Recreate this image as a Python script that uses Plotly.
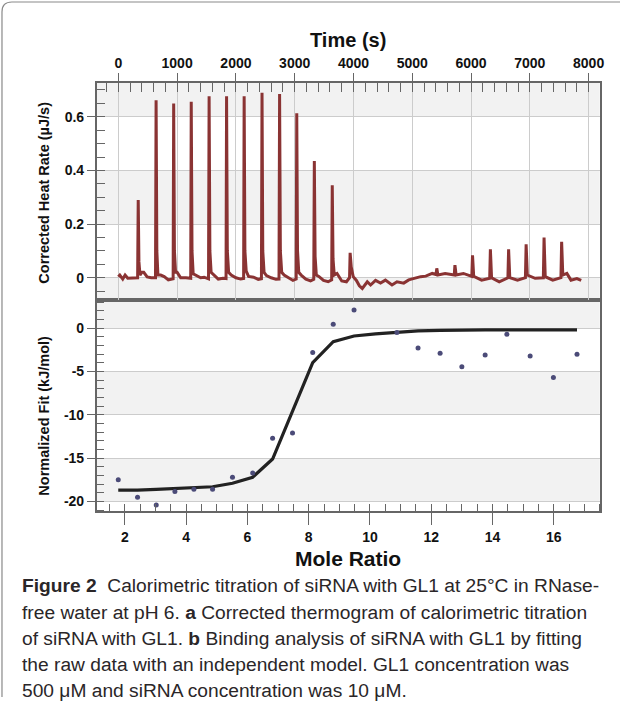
import plotly.graph_objects as go

# ---------------- data ----------------
# (a) corrected thermogram: time (s) and heat rate (uJ/s), vertices
heat_time = [
    0, 25, 75, 115, 160, 250, 328,
    338, 350, 368, 400, 432, 490, 560, 632,
    642, 655, 673, 720, 780, 850, 932,
    941, 954, 973, 1000, 1060, 1150, 1231,
    1240, 1253, 1273, 1320, 1400, 1460, 1534,
    1544, 1557, 1578, 1620, 1700, 1780, 1832,
    1841, 1854, 1876, 1920, 2000, 2080, 2131,
    2140, 2153, 2175, 2215, 2300, 2380, 2434,
    2444, 2457, 2479, 2520, 2600, 2680, 2733,
    2743, 2756, 2779, 2820, 2900, 2970, 3025,
    3035, 3048, 3069, 3110, 3190, 3270, 3324,
    3334, 3347, 3368, 3410, 3490, 3570, 3629,
    3639, 3652, 3673, 3720, 3800, 3880, 3933,
    3943, 3962, 3995, 4050, 4100, 4150, 4235, 4291, 4375, 4460,
    4543, 4655, 4740, 4855, 4940, 5030, 5143, 5230, 5340, 5405,
    5417, 5436, 5560, 5714,
    5726, 5746, 5870, 6013,
    6025, 6045, 6180, 6317,
    6329, 6349, 6480, 6627,
    6639, 6659, 6790, 6925,
    6937, 6957, 7090, 7230,
    7242, 7262, 7390, 7529,
    7541, 7561, 7630, 7700, 7800, 7874,
]
heat_rate = [
    0.004, 0.010, -0.005, 0.010, -0.002, 0.000, 0.000,
    0.290, 0.060, 0.010, 0.020, 0.020, 0.003, 0.000, 0.000,
    0.662, 0.100, 0.010, 0.010, 0.004, -0.008, -0.004,
    0.650, 0.100, 0.020, 0.020, 0.000, 0.000, -0.002,
    0.656, 0.100, 0.015, 0.010, 0.000, 0.002, -0.004,
    0.677, 0.100, 0.020, 0.010, -0.005, -0.002, -0.003,
    0.677, 0.100, 0.020, 0.010, 0.000, -0.005, -0.003,
    0.677, 0.100, 0.025, 0.005, 0.002, -0.006, -0.004,
    0.690, 0.100, 0.020, 0.008, 0.000, -0.006, -0.005,
    0.685, 0.100, 0.020, 0.010, 0.000, -0.010, -0.005,
    0.613, 0.100, 0.020, 0.010, -0.005, -0.012, -0.006,
    0.435, 0.080, 0.010, 0.005, -0.010, -0.015, -0.008,
    0.345, 0.070, 0.010, 0.016, -0.012, -0.015, 0.000,
    0.093, 0.040, 0.004, -0.010, -0.030, -0.040, -0.015, -0.027, -0.010, -0.020,
    -0.009, -0.027, -0.015, -0.020, -0.008, -0.002, 0.004, 0.006, 0.016, 0.012,
    0.035, 0.010, 0.016, 0.010,
    0.047, 0.010, 0.016, 0.005,
    0.084, 0.005, -0.009, -0.002,
    0.106, 0.000, -0.015, 0.000,
    0.106, 0.000, -0.009, 0.000,
    0.125, 0.010, -0.002, 0.000,
    0.150, 0.004, -0.009, 0.000,
    0.134, 0.010, 0.016, -0.009, -0.003, -0.010,
]
assert len(heat_time) == len(heat_rate)

# (b) integrated heats and fit
mole_ratio = [1.78, 2.41, 3.02, 3.63, 4.25, 4.86, 5.51, 6.17, 6.82, 7.47, 8.13, 8.80,
              9.48, 10.18, 10.88, 11.57, 12.29, 13.00, 13.76, 14.47, 15.23, 15.99, 16.76]
norm_heat = [-17.5, -19.5, -20.4, -18.85, -18.6, -18.6, -17.2, -16.7, -12.7, -12.1, -2.8, 0.45,
             2.1, None, -0.5, -2.27, -2.9, -4.46, -3.1, -0.7, -3.2, -5.7, -3.0]
fit_heat = [-18.7, -18.7, -18.6, -18.5, -18.45, -18.3, -17.9, -17.2, -15.1, -9.6, -3.97, -1.54,
            -0.9, -0.65, -0.5, -0.3, -0.25, -0.2, -0.2, -0.2, -0.2, -0.2, -0.2]

time_ticks = [0, 1000, 2000, 3000, 4000, 5000, 6000, 7000, 8000]
mole_ticks = [2, 4, 6, 8, 10, 12, 14, 16]
rate_ticks = [0, 0.2, 0.4, 0.6]
rate_labels = ["0", "0.2", "0.4", "0.6"]
fit_ticks = [0, -5, -10, -15, -20]
fit_labels = ["0", "-5", "-10", "-15", "-20"]

caption_lines = [
    "<b>Figure 2</b>  Calorimetric titration of siRNA with GL1 at 25°C in RNase-",
    "free water at pH 6. <b>a</b> Corrected thermogram of calorimetric titration",
    "of siRNA with GL1. <b>b</b> Binding analysis of siRNA with GL1 by fitting",
    "the raw data with an independent model. GL1 concentration was",
    "500 μM and siRNA concentration was 10 μM.",
]

# ---------------- layout geometry ----------------
W, H = 625, 718
X0, X1 = 97.5, 604.5          # plot left/right px
TOP0, MID, BOT = 83, 300, 511  # px
def px_x(p): return p / W
def px_y(p): return 1 - p / H

dom_x = [px_x(X0), px_x(X1)]
dom_top = [px_y(MID), px_y(TOP0)]
dom_bot = [px_y(BOT), px_y(MID)]

time_range = [-368, 8188]
mole_range = [1.077, 17.50]
rate_range = [-0.083, 0.726]
fit_range = [-21.1, 3.26]

FONT = "Liberation Sans, Arial, sans-serif"
AX = "#666666"
GRID = "#cccccc"
BAND = "#f2f2f2"

fig = go.Figure()

fig.add_trace(go.Scatter(x=heat_time, y=heat_rate, xaxis="x2", yaxis="y2", mode="lines",
                         line=dict(color="#8a3333", width=3), showlegend=False))
fig.add_trace(go.Scatter(x=mole_ratio, y=fit_heat, xaxis="x", yaxis="y", mode="lines",
                         line=dict(color="#222222", width=3.2), showlegend=False))
fig.add_trace(go.Scatter(x=mole_ratio, y=norm_heat, xaxis="x", yaxis="y", mode="markers",
                         marker=dict(color="#4b4b78", size=5), showlegend=False))

tickfont = dict(family=FONT, size=14, color="#111111", weight="bold")

fig.update_layout(
    width=W, height=H, margin=dict(l=0, r=0, t=0, b=0),
    paper_bgcolor="white", plot_bgcolor="rgba(0,0,0,0)",
    xaxis=dict(domain=dom_x, anchor="y", range=mole_range, tickvals=mole_ticks,
               ticks="outside", ticklen=12, tickwidth=1.3, tickcolor=AX,
               minor=dict(dtick=0.5, tick0=0, ticks="inside", ticklen=7, tickwidth=1.1, tickcolor=AX, showgrid=False),
               showgrid=False, zeroline=False, showline=True, linecolor=AX, linewidth=1.6, mirror=True,
               tickfont=tickfont),
    xaxis3=dict(domain=dom_x, anchor="y", overlaying="x", range=time_range, tickvals=time_ticks,
                showticklabels=False, ticks="", showgrid=True, gridcolor=GRID, gridwidth=1,
                zeroline=False, showline=False),
    xaxis2=dict(domain=dom_x, anchor="y2", side="top", range=time_range, tickvals=time_ticks,
                ticks="outside", ticklen=8, tickwidth=1.3, tickcolor=AX,
                minor=dict(dtick=200, tick0=0, ticks="inside", ticklen=9, tickwidth=1.1, tickcolor=AX, showgrid=False),
                showgrid=True, gridcolor=GRID, gridwidth=1, zeroline=False,
                showline=True, linecolor=AX, linewidth=1.6, mirror=True, tickfont=tickfont),
    yaxis=dict(domain=dom_bot, anchor="x", range=fit_range, tickvals=fit_ticks, ticktext=fit_labels,
               ticks="outside", ticklen=8, tickwidth=1.3, tickcolor=AX,
               minor=dict(dtick=1, tick0=0, ticks="inside", ticklen=7, tickwidth=1.1, tickcolor=AX, showgrid=False),
               showgrid=True, gridcolor=GRID, gridwidth=1, zeroline=False,
               showline=True, linecolor=AX, linewidth=1.6, mirror=True, tickfont=tickfont),
    yaxis2=dict(domain=dom_top, anchor="x2", range=rate_range, tickvals=rate_ticks, ticktext=rate_labels,
                ticks="outside", ticklen=8, tickwidth=1.3, tickcolor=AX,
                minor=dict(dtick=0.05, tick0=0, ticks="inside", ticklen=8, tickwidth=1.1, tickcolor=AX, showgrid=False),
                showgrid=True, gridcolor=GRID, gridwidth=1, zeroline=False,
                showline=True, linecolor=AX, linewidth=1.6, mirror=True, tickfont=tickfont),
)

# alternating horizontal bands between gridlines
shapes = []
top_bands = [(rate_ticks[3], rate_range[1]), (rate_ticks[1], rate_ticks[2]), (rate_range[0], rate_ticks[0])]
for a, b in top_bands:
    shapes.append(dict(type="rect", xref="paper", yref="y2", x0=dom_x[0], x1=dom_x[1], y0=a, y1=b,
                       fillcolor=BAND, line=dict(width=0), layer="below"))
bot_bands = [(fit_ticks[0], fit_range[1]), (fit_ticks[2], fit_ticks[1]), (fit_ticks[4], fit_ticks[3])]
for a, b in bot_bands:
    shapes.append(dict(type="rect", xref="paper", yref="y", x0=dom_x[0], x1=dom_x[1], y0=a, y1=b,
                       fillcolor=BAND, line=dict(width=0), layer="below"))

# outer figure frame (rounded top-left corner)
r = 10
fx, fy, fx1, fy1 = 2, 2, 625, 697
path = (f"M {px_x(fx1)},{px_y(fy)} L {px_x(fx + r)},{px_y(fy)} "
        f"Q {px_x(fx)},{px_y(fy)} {px_x(fx)},{px_y(fy + r)} L {px_x(fx)},{px_y(fy1)}")
shapes.append(dict(type="path", xref="paper", yref="paper", path=path,
                   line=dict(color="#8a8a8a", width=1.2)))
fig.update_layout(shapes=shapes)

def note(text, x, y, size, angle=0, xanchor="center"):
    return dict(text=text, x=px_x(x), y=px_y(y), xref="paper", yref="paper", xanchor=xanchor,
                yanchor="middle", showarrow=False, textangle=angle,
                font=dict(family=FONT, size=size, color="#111111"))

ann = [
    note("<b>Time (s)</b>", 351, 40, 20),
    note("<b>Mole Ratio</b>", 351, 558, 21),
    note("<b>Corrected Heat Rate (µJ/s)</b>", 44, 193, 14.5, angle=-90),
    note("<b>Normalized Fit (kJ/mol)</b>", 44, 416, 14.5, angle=-90),
]
cap_y = [585, 612, 638, 664, 690]
for line, yy in zip(caption_lines, cap_y):
    a = note(line, 20, yy, 19.2, xanchor="left")
    a["font"]["color"] = "#2a2628"
    ann.append(a)
fig.update_layout(annotations=ann)

fig.write_html("out.html")
